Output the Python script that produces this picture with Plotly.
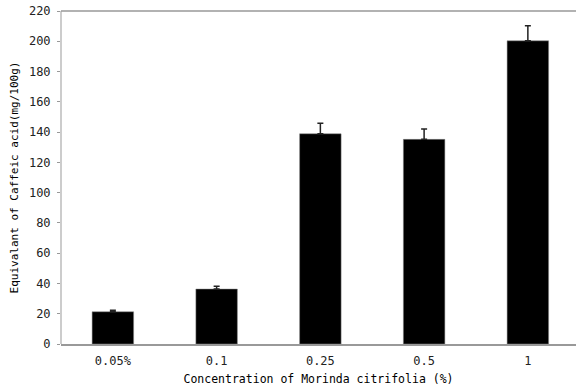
import plotly.graph_objects as go

categories = ["0.05%", "0.1", "0.25", "0.5", "1"]
values = [21.3, 36.3, 138.9, 135.2, 200.3]
errors = [1.0, 1.8, 6.9, 6.8, 9.9]
y_ticks = [0, 20, 40, 60, 80, 100, 120, 140, 160, 180, 200, 220]

FONT = "DejaVu Sans Mono"

fig = go.Figure()
fig.add_trace(go.Bar(
    x=list(range(len(categories))),
    y=values,
    width=0.4,
    marker=dict(color="black", line=dict(color="#888888", width=0.5)),
    error_y=dict(type="data", array=errors, arrayminus=[0] * len(errors),
                 symmetric=False, color="#222222", thickness=1.5, width=3),
))

# top border and left axis line of the plot area
fig.add_shape(type="line", xref="paper", yref="paper", x0=0, x1=1, y0=1, y1=1,
              line=dict(color="#999999", width=1.5))
fig.add_shape(type="line", xref="paper", yref="paper", x0=0, x1=0, y0=0, y1=1,
              line=dict(color="#999999", width=1))

fig.update_layout(
    width=576, height=387,
    margin=dict(l=61, r=0, t=11, b=43, autoexpand=False),
    plot_bgcolor="white", paper_bgcolor="white",
    showlegend=False,
    font=dict(family=FONT, size=11, color="black"),
    xaxis=dict(
        tickmode="array", tickvals=list(range(len(categories))), ticktext=categories,
        range=[-0.5, 4.464], automargin=False,
        showline=True, linecolor="#999999", linewidth=1.5, mirror=False,
        ticks="", showgrid=False, zeroline=False, ticklabelstandoff=5,
        tickfont=dict(family=FONT, size=12, color="#222222"),
        title=dict(text="Concentration of Morinda citrifolia (%)", standoff=8,
                   font=dict(family=FONT, size=11.5)),
    ),
    yaxis=dict(
        range=[0, 220], tickmode="array", tickvals=y_ticks, automargin=False,
        showline=False, mirror=False,
        ticks="outside", ticklen=3, tickcolor="#999999",
        showgrid=False, zeroline=False, ticklabelstandoff=4,
        tickfont=dict(family=FONT, size=12, color="#222222"),
        title=dict(text="Equivalant of Caffeic acid(mg/100g)", standoff=8,
                   font=dict(family=FONT, size=11)),
    ),
)

fig.write_html("out.html", config={"displayModeBar": False},
               post_script="document.body.style.margin='0';")
